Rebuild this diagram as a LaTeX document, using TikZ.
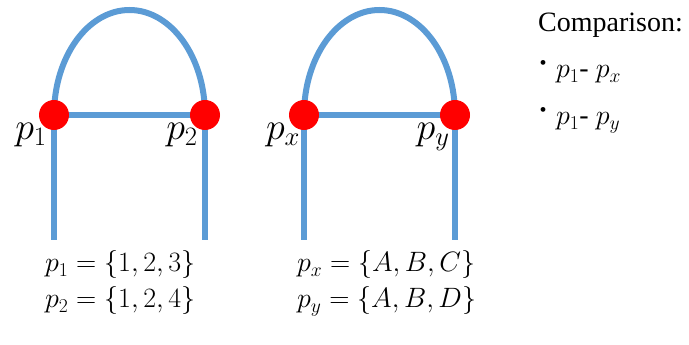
\RequirePackage{fix-cm}
\documentclass[tikz,border=0pt]{standalone}
\usepackage{fontspec}
\setmainfont{Liberation Serif}
\begin{document}
\begin{tikzpicture}[x=1pt,y=1pt,
  wire/.style={draw={rgb,255:red,91;green,155;blue,213},line width=6pt},
  dot/.style={circle,fill=red,inner sep=0pt,minimum size=30pt},
  glabel/.style={font=\fontsize{38}{44}\selectfont,inner sep=0pt,anchor=base},
  eqn/.style={font=\fontsize{28}{32}\selectfont,inner sep=0pt,anchor=base west},
  ctext/.style={font=\fontsize{28}{32}\selectfont,inner sep=0pt,anchor=base west},
  bul/.style={font=\fontsize{20}{22}\selectfont,inner sep=0pt}]
\useasboundingbox (0,0) rectangle (689,345);
% left graph
\coordinate (a1) at (54,230);
\coordinate (a2) at (205,230);
\coordinate (a1b) at (54,105);
\coordinate (a2b) at (205,105);
\coordinate (atop) at (129.5,335);
\draw[wire] (a1) -- (a2);
\draw[wire] (a1) -- (a1b);
\draw[wire] (a2) -- (a2b);
\draw[wire] (a1) .. controls (54,288) and (87.8,335) .. (atop)
             .. controls (171.2,335) and (205,288) .. (a2);
\node[dot] (p1) at (a1) {};
\node[dot] (p2) at (a2) {};
\node[glabel] (l1) at (31,205) {$p_1$};
\node[glabel] (l2) at (182,205) {$p_2$};
% right graph
\coordinate (b1) at (304,230);
\coordinate (b2) at (455,230);
\coordinate (b1b) at (304,105);
\coordinate (b2b) at (455,105);
\coordinate (btop) at (379.5,335);
\draw[wire] (b1) -- (b2);
\draw[wire] (b1) -- (b1b);
\draw[wire] (b2) -- (b2b);
\draw[wire] (b1) .. controls (304,288) and (337.8,335) .. (btop)
             .. controls (421.2,335) and (455,288) .. (b2);
\node[dot] (px) at (b1) {};
\node[dot] (py) at (b2) {};
\node[glabel] (lx) at (283,205) {$p_x$};
\node[glabel] (ly) at (433,205) {$p_y$};
% equations
\node[eqn] (e1) at (45,73) {$p_1=\{1,2,3\}$};
\node[eqn] (e2) at (45,37) {$p_2=\{1,2,4\}$};
\node[eqn] (e3) at (297,73) {$p_x=\{A,B,C\}$};
\node[eqn] (e4) at (297,37) {$p_y=\{A,B,D\}$};
% comparison
\node[ctext] (ct) at (538,313) {Comparison:};
\node[bul] (b1t) at (543,280) {•};
\node[ctext] (c1) at (556,267) {$p_1$- $p_x$};
\node[bul] (b2t) at (543,233) {•};
\node[ctext] (c2) at (556,220) {$p_1$- $p_y$};
\end{tikzpicture}
\end{document}
